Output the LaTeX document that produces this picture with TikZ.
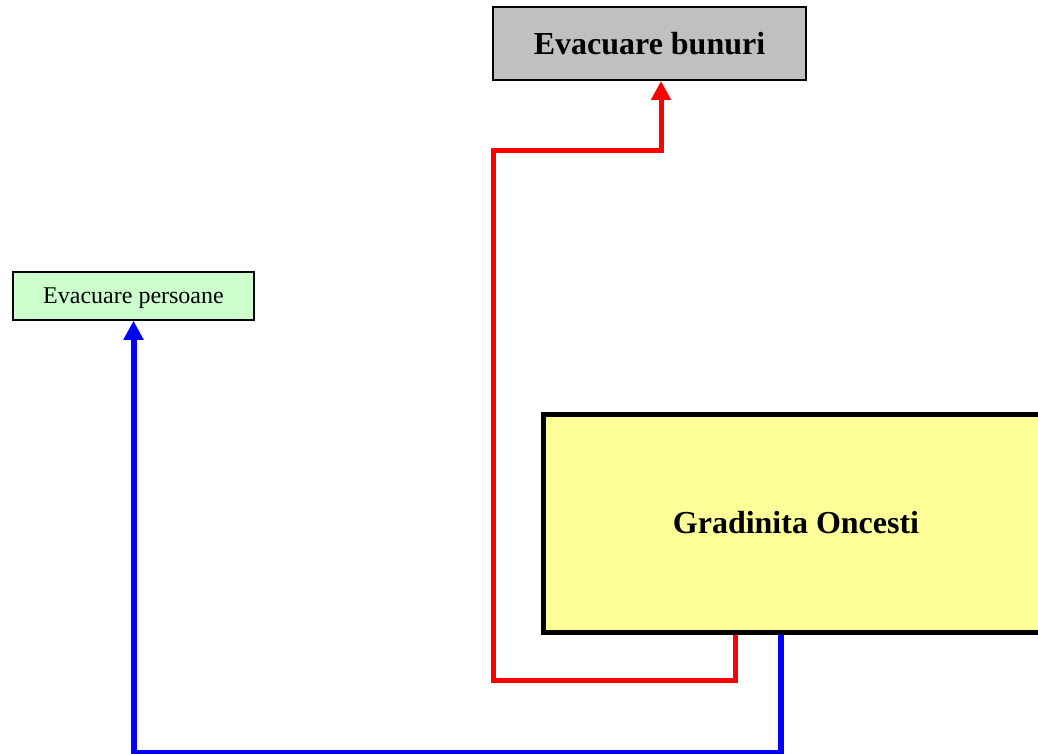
\documentclass[tikz,border=0pt]{standalone}
\usepackage{fontspec}
\setmainfont{Liberation Serif}
\usetikzlibrary{arrows.meta}

\definecolor{boxgray}{RGB}{192,192,192}
\definecolor{boxgreen}{RGB}{204,255,204}
\definecolor{boxyellow}{RGB}{255,255,153}

\begin{document}
\begin{tikzpicture}[x=1pt,y=-1pt,
    >={Triangle[length=19pt,width=19pt]},
    box/.style={draw=black,rectangle,inner sep=0pt,align=center},
    route/.style={line width=5pt,->}]
    \useasboundingbox (0,0) rectangle (1038,754);

    \node[box,fill=boxgray,line width=2pt,minimum width=313pt,minimum height=73pt,
          font=\fontsize{32}{36}\selectfont\bfseries] (bunuri) at (649.5,43.5) {Evacuare bunuri};
    \node[box,fill=boxgreen,line width=1.5pt,minimum width=241pt,minimum height=48pt,
          text depth=0pt,font=\fontsize{24}{28}\selectfont] (persoane) at (133.5,296) {Evacuare persoane};
    \node[box,fill=boxyellow,line width=5pt,minimum width=506pt,minimum height=218pt,
          font=\fontsize{32}{36}\selectfont\bfseries] (gradinita) at (796,523) {Gradinita Oncesti};

    % bunuri
    \draw[route,red] ([xshift=-61pt]gradinita.south) |- ++(-242,46)
        -- (493,151) -| ([xshift=11.5pt]bunuri.south);
    % persoane
    \draw[route,blue,line width=6pt] ([xshift=-15pt]gradinita.south) -- ++(0,118)
        -| (persoane.south);
\end{tikzpicture}
\end{document}
